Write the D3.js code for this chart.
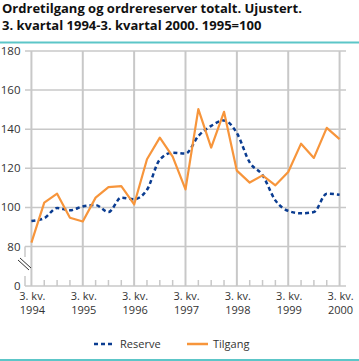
<!DOCTYPE html>
<html>
<head>
<meta charset="utf-8">
<script src="https://cdn.jsdelivr.net/npm/d3@7"></script>
<style>
  body { margin: 0; background: #fff; }
  svg { display: block; font-family: "Open Sans", sans-serif; }
</style>
</head>
<body>
<svg id="chart" width="359" height="361"></svg>
<script>
// quarters 1994Q3 .. 2000Q3
const quarters = d3.range(25);
const yearLabels = ["1994", "1995", "1996", "1997", "1998", "1999", "2000"];
const reserve = [93, 94.5, 99.7, 98.5, 100.5, 101.2, 97.6, 105, 104.2, 109, 124.5, 128,
                 127.5, 136.5, 141.7, 144.5, 138, 123, 116.5, 103.6, 98.2, 97, 97.6, 107, 106.5];
const tilgang = [82, 102.4, 107, 94.7, 92.8, 105, 110.4, 110.9, 101.5, 124.6, 135.7, 126,
                 109.2, 150.3, 130.6, 148.9, 118.8, 112.7, 116.4, 111.3, 118.1, 132.6, 125.3, 140.7, 134.9];
const yTicks = [0, 80, 100, 120, 140, 160, 180];

const svg = d3.select("#chart");
const teal = "#5cc6c8";
const grid = "#c8c8c8";
const textCol = "#333";

// title
const title = svg.append("text")
  .attr("font-size", 13)
  .attr("font-weight", "bold")
  .attr("fill", "#111");
title.append("tspan").attr("x", 2).attr("y", 13).text("Ordretilgang og ordrereserver totalt. Ujustert.");
title.append("tspan").attr("x", 2).attr("y", 29.5).text("3. kvartal 1994-3. kvartal 2000. 1995=100");

svg.append("line").attr("x1", 0).attr("x2", 359).attr("y1", 42.5).attr("y2", 42.5)
  .attr("stroke", teal).attr("stroke-width", 2);
svg.append("line").attr("x1", 0).attr("x2", 359).attr("y1", 360).attr("y2", 360)
  .attr("stroke", teal).attr("stroke-width", 2);

const x = d3.scaleLinear().domain([-0.5, 24.5]).range([25, 346]);
const y = d3.scaleLinear().domain([0, 80, 180]).range([286, 246.5, 51]);

// horizontal gridlines
svg.append("g").selectAll("line")
  .data(yTicks.filter(d => d > 0))
  .join("line")
  .attr("x1", x(-0.5)).attr("x2", x(24.5))
  .attr("y1", d => y(d)).attr("y2", d => y(d))
  .attr("stroke", grid).attr("stroke-width", 1.5);

// vertical gridlines at 3. kvartal
svg.append("g").selectAll("line")
  .data(yearLabels.map((d, i) => i * 4))
  .join("line")
  .attr("x1", d => x(d)).attr("x2", d => x(d))
  .attr("y1", y(180)).attr("y2", y(0))
  .attr("stroke", grid).attr("stroke-width", 2);

// x axis line and quarter ticks
svg.append("line").attr("x1", x(-0.5)).attr("x2", x(24.5))
  .attr("y1", y(0)).attr("y2", y(0)).attr("stroke", grid).attr("stroke-width", 1.5);
svg.append("g").selectAll("line")
  .data(quarters.filter(d => d % 4 !== 0))
  .join("line")
  .attr("x1", d => x(d)).attr("x2", d => x(d))
  .attr("y1", y(0)).attr("y2", y(0) - 6)
  .attr("stroke", grid).attr("stroke-width", 1.5);

// left axis pieces with break
svg.append("line").attr("x1", 25).attr("x2", 25).attr("y1", y(80)).attr("y2", 257)
  .attr("stroke", grid).attr("stroke-width", 1.5);
svg.append("line").attr("x1", 25).attr("x2", 25).attr("y1", 276).attr("y2", y(0))
  .attr("stroke", grid).attr("stroke-width", 1.5);
const brk = svg.append("g").attr("stroke", "#333").attr("stroke-width", 1);
brk.append("line").attr("x1", 18).attr("y1", 260).attr("x2", 29).attr("y2", 270);
brk.append("line").attr("x1", 20).attr("y1", 258).attr("x2", 31).attr("y2", 268);

// y labels
svg.append("g").selectAll("text")
  .data(yTicks)
  .join("text")
  .attr("x", 20.5).attr("y", d => y(d) + 4)
  .attr("text-anchor", "end")
  .attr("font-size", 11.5)
  .attr("fill", textCol)
  .text(d => d);

// x labels
const xl = svg.append("g").selectAll("text")
  .data(yearLabels)
  .join("text")
  .attr("text-anchor", "middle")
  .attr("font-size", 11)
  .attr("fill", textCol);
xl.append("tspan").attr("x", (d, i) => x(i * 4) + 1).attr("y", 300).text("3. kv.");
xl.append("tspan").attr("x", (d, i) => x(i * 4) + 1).attr("y", 314).text(d => d);

// series
const blue = "#0a3c91";
const orange = "#f7953b";

const lineReserve = d3.line().x((d, i) => x(i)).y(d => y(d)).curve(d3.curveMonotoneX);
const lineTilgang = d3.line().x((d, i) => x(i)).y(d => y(d));

svg.append("path").datum(reserve)
  .attr("d", lineReserve)
  .attr("fill", "none").attr("stroke", blue).attr("stroke-width", 2.5)
  .attr("stroke-dasharray", "4,3");
svg.append("path").datum(tilgang)
  .attr("d", lineTilgang)
  .attr("fill", "none").attr("stroke", orange).attr("stroke-width", 2.2)
  .attr("stroke-linejoin", "round");

// legend
const legend = [
  { name: "Reserve", color: blue, dash: "4,3", x: 94 },
  { name: "Tilgang", color: orange, dash: null, x: 187 }
];
const lg = svg.append("g").selectAll("g")
  .data(legend)
  .join("g")
  .attr("transform", d => `translate(${d.x},344)`);
lg.append("line").attr("x1", 0).attr("x2", 21).attr("y1", 0).attr("y2", 0)
  .attr("stroke", d => d.color).attr("stroke-width", 2.5)
  .attr("stroke-dasharray", d => d.dash);
lg.append("text").attr("x", 26).attr("y", 4)
  .attr("font-size", 11).attr("fill", textCol)
  .text(d => d.name);
</script>
</body>
</html>
